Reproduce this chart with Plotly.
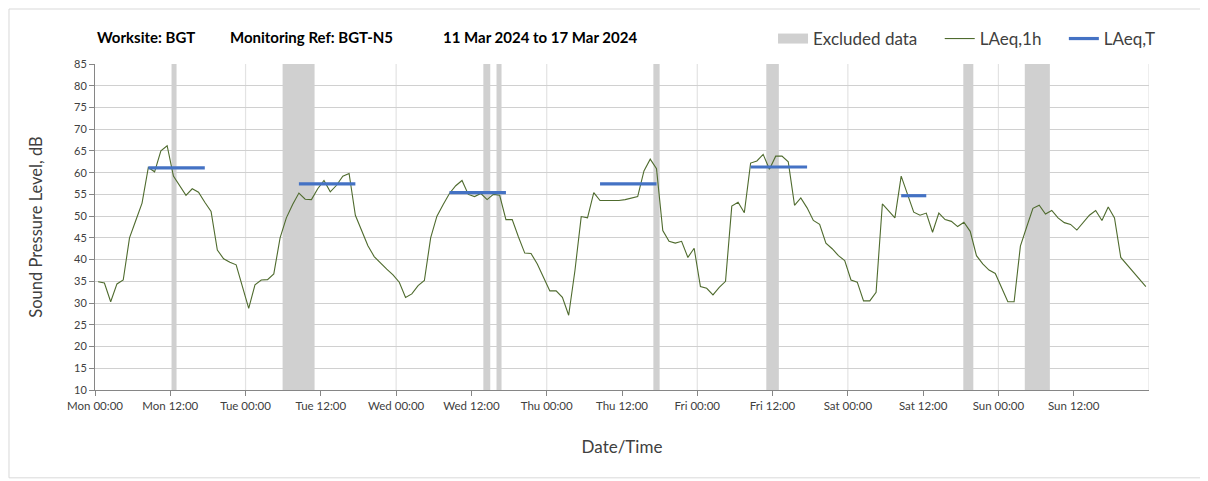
import plotly.graph_objects as go
import pandas as pd

# ---------------- data ----------------
start_time = "2024-03-11 00:30"
laeq_1h = [
    # Mon
    34.9, 34.6, 30.3, 34.4, 35.3, 45.0, 49.0, 53.0, 61.2, 60.2, 65.0, 66.2,
    59.2, 57.1, 54.8, 56.3, 55.5, 53.2, 51.1, 42.2, 40.2, 39.4, 38.8, 33.8,
    # Tue
    28.8, 34.2, 35.3, 35.4, 36.7, 45.0, 49.6, 52.7, 55.3, 53.9, 53.8, 56.3,
    58.2, 55.6, 57.1, 59.2, 59.8, 50.2, 46.5, 43.2, 40.7, 39.2, 37.8, 36.5,
    # Wed
    34.8, 31.3, 32.1, 34.0, 35.2, 45.0, 50.0, 52.7, 55.2, 57.0, 58.2, 55.0,
    54.5, 55.2, 53.8, 55.0, 54.8, 49.2, 49.2, 45.2, 41.5, 41.4, 39.0, 35.9,
    # Thu
    32.8, 32.8, 31.3, 27.2, 37.5, 49.9, 49.6, 55.4, 53.6, 53.6, 53.6, 53.6,
    53.8, 54.1, 54.5, 60.4, 63.1, 60.9, 46.7, 44.2, 43.8, 44.2, 40.5, 42.6,
    # Fri
    33.8, 33.4, 31.9, 33.6, 35.0, 52.3, 53.2, 50.8, 62.2, 62.7, 64.2, 60.8,
    63.8, 63.8, 62.5, 52.5, 54.2, 51.9, 49.0, 48.1, 43.8, 42.5, 40.9, 39.8,
    # Sat
    35.3, 34.8, 30.5, 30.5, 32.5, 52.8, 51.2, 49.6, 59.2, 55.2, 50.9, 50.2,
    50.7, 46.3, 50.7, 49.2, 48.8, 47.6, 48.6, 46.5, 40.9, 39.0, 37.6, 36.8,
    # Sun
    33.6, 30.3, 30.3, 43.1, 47.5, 51.8, 52.5, 50.5, 51.3, 49.6, 48.5, 48.1,
    46.8, 48.4, 50.2, 51.3, 49.0, 52.1, 49.6, 40.5, 38.8, 37.1, 35.5, 33.8,
]

# LAeq,T periods (first and last hourly point covered) and values
laeq_t_start = ["2024-03-11 08:30", "2024-03-12 08:30", "2024-03-13 08:30",
                "2024-03-14 08:30", "2024-03-15 08:30", "2024-03-16 08:30"]
laeq_t_end = ["2024-03-11 17:30", "2024-03-12 17:30", "2024-03-13 17:30",
              "2024-03-14 17:30", "2024-03-15 17:30", "2024-03-16 12:30"]
laeq_t_value = [61.1, 57.4, 55.4, 57.4, 61.3, 54.7]

# Excluded data periods
excl_start = ["2024-03-11 12:12", "2024-03-12 05:54", "2024-03-13 13:54",
              "2024-03-13 16:00", "2024-03-14 17:00", "2024-03-15 11:00",
              "2024-03-16 18:24", "2024-03-17 04:12"]
excl_end = ["2024-03-11 13:00", "2024-03-12 11:00", "2024-03-13 15:00",
            "2024-03-13 16:48", "2024-03-14 18:00", "2024-03-15 13:00",
            "2024-03-16 20:00", "2024-03-17 08:12"]

x_start = "2024-03-11 00:00"
x_end = "2024-03-18 00:00"
y_min, y_max = 10, 85

title_parts = ["Worksite: BGT", "Monitoring Ref: BGT-N5", "11 Mar 2024 to 17 Mar 2024"]
title_x = [0.0, 0.1262, 0.3283]   # paper positions of the title parts

series_names = ["Excluded data", "LAeq,1h", "LAeq,T"]

# ---------------- figure ----------------
FONT = "Lato"
PAD = "\u00a0" * 4
times = pd.date_range(start_time, periods=len(laeq_1h), freq="h")

fig = go.Figure()

# legend entry for excluded data
fig.add_trace(go.Scatter(x=[None], y=[None], mode="lines", name=series_names[0] + PAD,
                         line=dict(color="#D0D0D0", width=10)))

fig.add_trace(go.Scatter(x=times, y=laeq_1h, mode="lines", name=series_names[1] + PAD,
                         line=dict(color="#4F6B2E", width=1.1)))

tx, ty = [], []
for s, e, v in zip(laeq_t_start, laeq_t_end, laeq_t_value):
    tx += [s, e, None]
    ty += [v, v, None]
fig.add_trace(go.Scatter(x=tx, y=ty, mode="lines", name=series_names[2],
                         line=dict(color="#4472C4", width=3.2)))

shapes = []
for s, e in zip(excl_start, excl_end):
    shapes.append(dict(type="rect", xref="x", yref="y", x0=s, x1=e,
                       y0=y_min, y1=y_max, fillcolor="#D0D0D0",
                       line=dict(width=0), layer="below"))
# daily vertical gridlines
for d in pd.date_range(x_start, x_end, freq="D")[1:]:
    shapes.append(dict(type="line", xref="x", yref="y", x0=d, x1=d,
                       y0=y_min, y1=y_max, line=dict(color="#E3E3E3", width=1.2),
                       layer="below"))
# outer border
shapes.append(dict(type="rect", xref="paper", yref="paper",
                   x0=-0.0816, x1=1.0522, y0=-0.2694, y1=1.1687,
                   line=dict(color="#D9D9D9", width=1), fillcolor="rgba(0,0,0,0)"))

annotations = []
for txt, xp in zip(title_parts, title_x):
    annotations.append(dict(text="<b>" + txt + "</b>", xref="paper", yref="paper",
                            x=xp, y=1.0828, xanchor="left", yanchor="middle",
                            showarrow=False,
                            font=dict(family=FONT, size=15, color="#000000")))

tick_vals = pd.date_range(x_start, periods=14, freq="12h")

fig.update_layout(
    width=1200, height=473,
    margin=dict(l=87, r=59, t=56, b=91),
    paper_bgcolor="white", plot_bgcolor="white",
    font=dict(family=FONT, color="#404040"),
    shapes=shapes,
    annotations=annotations,
    showlegend=True,
    legend=dict(orientation="h", x=0.6433, xanchor="left", y=1.0767,
                yanchor="middle", font=dict(family=FONT, size=17, color="#404040"),
                bgcolor="rgba(0,0,0,0)", traceorder="normal"),
    xaxis=dict(
        type="date", range=[x_start, x_end],
        tickmode="array", tickvals=tick_vals,
        tickformat="%a %H:%M", showgrid=False,
        ticks="outside", ticklen=5, tickcolor="#868686",
        showline=True, linecolor="#868686", linewidth=1,
        tickfont=dict(family=FONT, size=11.5, color="#404040"),
        title=dict(text="Date/Time", font=dict(family=FONT, size=17, color="#404040"),
                   standoff=30),
        zeroline=False,
    ),
    yaxis=dict(
        range=[y_min, y_max], dtick=5, tick0=10,
        showgrid=True, gridcolor="#D0D0D0", gridwidth=1,
        ticks="outside", ticklen=5, tickcolor="#868686",
        showline=True, linecolor="#868686", linewidth=1,
        tickfont=dict(family=FONT, size=11, color="#404040"),
        title=dict(text="Sound Pressure Level, dB",
                   font=dict(family=FONT, size=16.5, color="#404040"), standoff=27),
        zeroline=False,
    ),
)

fig.write_html("out.html")
